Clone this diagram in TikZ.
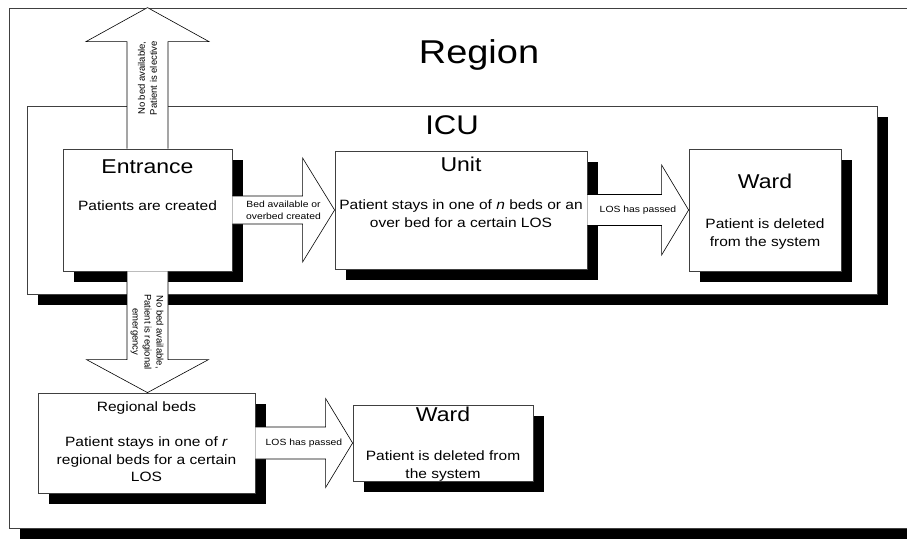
\documentclass[tikz,border=0pt]{standalone}
\usepackage{fontspec}
\setmainfont{Liberation Sans}[FakeStretch=1.15]
\newfontfamily\sidefont{Liberation Sans}
\usetikzlibrary{calc,shadows}

% block arrow pointing right: start anchor, tip anchor, shaft half-width, head half-width, head length
\newcommand\rightblock[5]{%
  \filldraw[blockarrow] let \p1=(#1), \p2=(#2) in
    ({\x1},{\y2+#3}) -- ({\x2-#5},{\y2+#3}) -- ({\x2-#5},{\y2+#4}) -- ({\x2},{\y2})
    -- ({\x2-#5},{\y2-#4}) -- ({\x2-#5},{\y2-#3}) -- ({\x1},{\y2-#3});}
% vertical block arrow: start anchor, tip anchor, shaft half-width, head half-width,
% head length (positive when pointing up, negative when pointing down)
\newcommand\vertblock[5]{%
  \filldraw[blockarrow] let \p1=(#1), \p2=(#2) in
    ({\x1+#3},{\y1}) -- ({\x1+#3},{\y2-(#5)}) -- ({\x1+#4},{\y2-(#5)}) -- ({\x1},{\y2})
    -- ({\x1-#4},{\y2-(#5)}) -- ({\x1-#3},{\y2-(#5)}) -- ({\x1-#3},{\y1});}

\tikzset{
  frame/.style={draw=black!75, line width=0.8pt, fill=white, inner sep=0pt,
    drop shadow={shadow xshift=11pt, shadow yshift=-11pt, fill=black, opacity=1}},
  blockarrow/.style={draw=black, line width=0.6pt, fill=white},
  regionlabel/.style={font=\fontsize{33}{38}\selectfont, anchor=base, inner sep=0pt},
  iculabel/.style={font=\fontsize{27}{31}\selectfont, anchor=base, inner sep=0pt},
  boxtitle/.style={font=\fontsize{20}{24}\selectfont, anchor=base, inner sep=0pt},
  smalltitle/.style={font=\fontsize{13.5}{17.5}\selectfont, anchor=base, inner sep=0pt},
  boxbody/.style={font=\fontsize{13.5}{17.5}\selectfont, align=center, anchor=north, inner sep=0pt},
  arrowlabel/.style={font=\fontsize{9}{12}\selectfont, align=center, inner sep=0pt},
  sidelabel/.style={font=\sidefont\fontsize{9.5}{12}\selectfont, align=center, inner sep=0pt},
}

\begin{document}
\begin{tikzpicture}[x=1pt, y=-1pt]
\useasboundingbox (0,0) rectangle (907,538);
\clip (0,0) rectangle (907,538);
\fill[white] (0,0) rectangle (907,538);

% enclosing frames
\node[frame, minimum width=940pt, minimum height=520pt] (region) at (479,268) {};
\node[frame, minimum width=850pt, minimum height=188pt] (icu) at (452,200) {};
\node[regionlabel] (regiontitle) at ($(region.north)+(0,56)$) {Region};
\node[iculabel] (icutitle) at ($(icu.north)+(0,29)$) {ICU};

% process boxes
\node[frame, minimum width=169pt, minimum height=122pt] (entrance) at (147.5,210) {};
\node[frame, minimum width=252pt, minimum height=118pt] (unit) at (461,210) {};
\node[frame, minimum width=152pt, minimum height=122pt] (ward) at (765,210) {};
\node[frame, minimum width=217pt, minimum height=100pt] (regional) at (146.5,443) {};
\node[frame, minimum width=180pt, minimum height=76pt] (ward2) at (443,443) {};

\coordinate (exit) at (entrance.north |- region.north);

% flows
\vertblock{entrance.north}{exit}{20.5pt}{61.5pt}{34pt}
\vertblock{entrance.south}{regional.north}{20.5pt}{61pt}{-33pt}
\rightblock{entrance.east}{unit.west}{14pt}{52pt}{32pt}
\rightblock{unit.east}{ward.west}{15.5pt}{45pt}{27pt}
\rightblock{regional.east}{ward2.west}{16pt}{44.5pt}{27pt}

% flow labels
\node[sidelabel, rotate=90] (electivelbl) at ($(entrance.north)!0.5!(exit)$) {No bed available,\\Patient is elective};
\node[sidelabel, rotate=-90] (emergencylbl) at ($(entrance.south)!0.5!(regional.north)$) {No bed available,\\Patient is regional\\emergency};
\node[arrowlabel] (bedlbl) at ($(entrance.east)!0.5!(unit.west)$) {Bed available or\\overbed created};
\node[arrowlabel] (loslbl) at ($(unit.east)!0.5!(ward.west)$) {LOS has passed};
\node[arrowlabel] (loslbltwo) at ($(regional.east)!0.5!(ward2.west)$) {LOS has passed};

% box texts
\node[boxtitle] (entrancetitle) at ($(entrance.north)+(0,25)$) {Entrance};
\node[boxbody] (entrancebody) at ($(entrance.north)+(0,52)$) {Patients are created};
\node[boxtitle] (unittitle) at ($(unit.north)+(0,21)$) {Unit};
\node[boxbody] (unitbody) at ($(unit.north)+(0,49)$) {Patient stays in one of \textit{n} beds or an\\over bed for a certain LOS};
\node[boxtitle] (wardtitle) at ($(ward.north)+(0,40)$) {Ward};
\node[boxbody] (wardbody) at ($(ward.north)+(0,70)$) {Patient is deleted\\from the system};
\node[smalltitle] (regionaltitle) at ($(regional.north)+(0,19)$) {Regional beds};
\node[boxbody] (regionalbody) at ($(regional.north)+(0,44)$) {Patient stays in one of \textit{r}\\regional beds for a certain\\LOS};
\node[boxtitle] (wardtwotitle) at ($(ward2.north)+(0,17)$) {Ward};
\node[boxbody] (wardtwobody) at ($(ward2.north)+(0,46)$) {Patient is deleted from\\the system};
\end{tikzpicture}
\end{document}
